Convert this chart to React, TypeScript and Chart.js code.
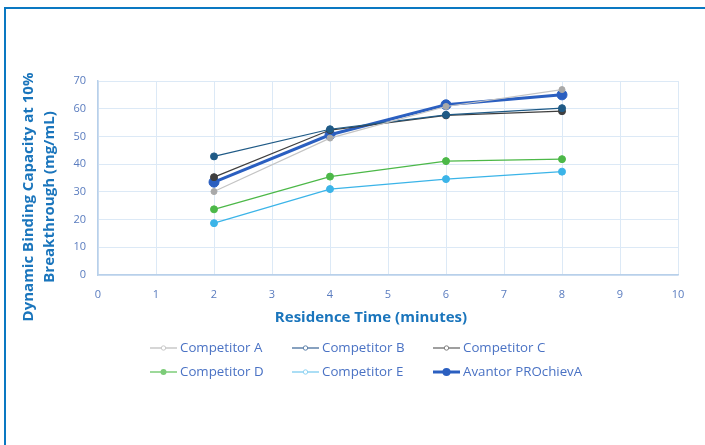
import React, { useEffect, useRef } from "react";
import { Chart, registerables } from "chart.js";

Chart.register(...registerables);

const residenceTimes = [2, 4, 6, 8];
const seriesNames = ["Competitor A", "Competitor B", "Competitor C", "Competitor D", "Competitor E", "Avantor PROchievA"];
const competitorA = [30.1, 49.4, 60.8, 66.9];
const competitorB = [42.8, 52.6, 57.8, 60.2];
const competitorC = [35.3, 52.3, 57.6, 59.1];
const competitorD = [23.7, 35.5, 41.1, 41.8];
const competitorE = [18.7, 31.0, 34.6, 37.3];
const avantor = [33.5, 50.6, 61.4, 65.0];
const xTicks = [0, 1, 2, 3, 4, 5, 6, 7, 8, 9, 10];
const yTicks = [0, 10, 20, 30, 40, 50, 60, 70];
const yTitleLines = ["Dynamic Binding Capacity at 10%", "Breakthrough (mg/mL)"];
const xTitle = "Residence Time (minutes)";

const FONT = "'Open Sans', sans-serif";

const styles = [
  { line: "#c4c4c4", point: "#a9a9a9", width: 1.2, r: 3, legendLine: "#c8c8c8", hollow: true },
  { line: "#1f5a86", point: "#1f5a86", width: 1.2, r: 3.5, legendLine: "#5f82aa", hollow: true },
  { line: "#3f3f3f", point: "#3f3f3f", width: 1.2, r: 3.5, legendLine: "#7f7f7f", hollow: true },
  { line: "#4cb848", point: "#4cb848", width: 1.2, r: 3.5, legendLine: "#7ccc78", hollow: false },
  { line: "#3bb4e8", point: "#3bb4e8", width: 1.2, r: 3.5, legendLine: "#8fd3f2", hollow: true },
  { line: "#2b5fc0", point: "#2b5fc0", width: 3, r: 5, legendLine: "#2b5fc0", hollow: false },
];

const customPlugin = {
  id: "customDecor",
  afterDraw(chart: any) {
    const ctx = chart.ctx;
    const area = chart.chartArea;
    ctx.save();
    // Y title
    const cy = (area.top + area.bottom) / 2 + 19;
    ctx.fillStyle = "#1a75bc";
    ctx.font = `bold 15px ${FONT}`;
    ctx.textAlign = "center";
    ctx.textBaseline = "middle";
    const xs = [29, 50];
    yTitleLines.forEach((t, i) => {
      ctx.save();
      ctx.translate(xs[i], cy);
      ctx.rotate(-Math.PI / 2);
      ctx.fillText(t, 0, 0);
      ctx.restore();
    });
    // X title
    ctx.fillText(xTitle, (area.left + area.right) / 2 - 17, 318);
    // Legend
    const cols = [150, 292, 433];
    const rows = [348, 372];
    ctx.font = `13.3px ${FONT}`;
    ctx.textAlign = "left";
    seriesNames.forEach((name, i) => {
      const s = styles[i];
      const x0 = cols[i % 3];
      const y = rows[Math.floor(i / 3)];
      ctx.strokeStyle = s.legendLine;
      ctx.lineWidth = i === 5 ? 3 : 1.5;
      ctx.beginPath();
      ctx.moveTo(x0, y);
      ctx.lineTo(x0 + 27, y);
      ctx.stroke();
      ctx.beginPath();
      ctx.arc(x0 + 13.5, y, i === 5 ? 4 : i === 3 ? 3 : 2.2, 0, Math.PI * 2);
      if (s.hollow) {
        ctx.fillStyle = "#ffffff";
        ctx.fill();
        ctx.lineWidth = 1;
        ctx.stroke();
      } else {
        ctx.fillStyle = s.legendLine;
        ctx.fill();
      }
      ctx.fillStyle = "#4a72c4";
      ctx.fillText(name, x0 + 30, y + 0.5);
    });
    ctx.restore();
  },
};

export default function App() {
  const ref = useRef<HTMLCanvasElement>(null);
  useEffect(() => {
    const all = [competitorA, competitorB, competitorC, competitorD, competitorE, avantor];
    const datasets = all.map((vals, i) => ({
      label: seriesNames[i],
      data: vals.map((v, j) => ({ x: residenceTimes[j], y: v })),
      borderColor: styles[i].line,
      backgroundColor: styles[i].point,
      pointBackgroundColor: styles[i].point,
      pointBorderColor: styles[i].point,
      borderWidth: styles[i].width,
      pointRadius: styles[i].r,
      pointBorderWidth: 1,
      tension: 0,
    }));
    const chart = new Chart(ref.current!, {
      type: "line",
      data: { datasets },
      options: {
        animation: false,
        responsive: false,
        devicePixelRatio: 1,
        layout: { padding: { left: 0, top: 81, right: 27, bottom: 0 } },
        plugins: { legend: { display: false }, tooltip: { enabled: false } },
        scales: {
          x: {
            type: "linear",
            min: 0,
            max: 10,
            afterBuildTicks: (s: any) => { s.ticks = xTicks.map((v) => ({ value: v })); },
            afterFit: (s: any) => { s.height = 170; },
            grid: { color: "#dce9f6", drawTicks: false, lineWidth: 1 },
            border: { color: "#b8d0ea", width: 1.5 },
            ticks: { color: "#5a7cbf", font: { family: FONT, size: 11 }, padding: 13, maxRotation: 0 },
          },
          y: {
            type: "linear",
            min: 0,
            max: 70,
            afterBuildTicks: (s: any) => { s.ticks = yTicks.map((v) => ({ value: v })); },
            afterFit: (s: any) => { s.width = 98; },
            grid: { color: "#dce9f6", drawTicks: false, lineWidth: 1 },
            border: { color: "#b8d0ea", width: 1.5 },
            ticks: { color: "#5a7cbf", font: { family: FONT, size: 11 }, padding: 12 },
          },
        },
      },
      plugins: [customPlugin],
    });
    return () => chart.destroy();
  }, []);
  return (
    <div style={{ position: "fixed", left: 0, top: 0, width: 705, height: 445, background: "#fff" }}>
      <canvas ref={ref} width={705} height={445} style={{ width: 705, height: 445, display: "block" }} />
      <div
        style={{
          position: "absolute",
          left: 4,
          top: 7,
          right: -10,
          bottom: -10,
          borderLeft: "2px solid #0a78c2",
          borderTop: "2px solid #0a78c2",
          pointerEvents: "none",
        }}
      />
    </div>
  );
}
